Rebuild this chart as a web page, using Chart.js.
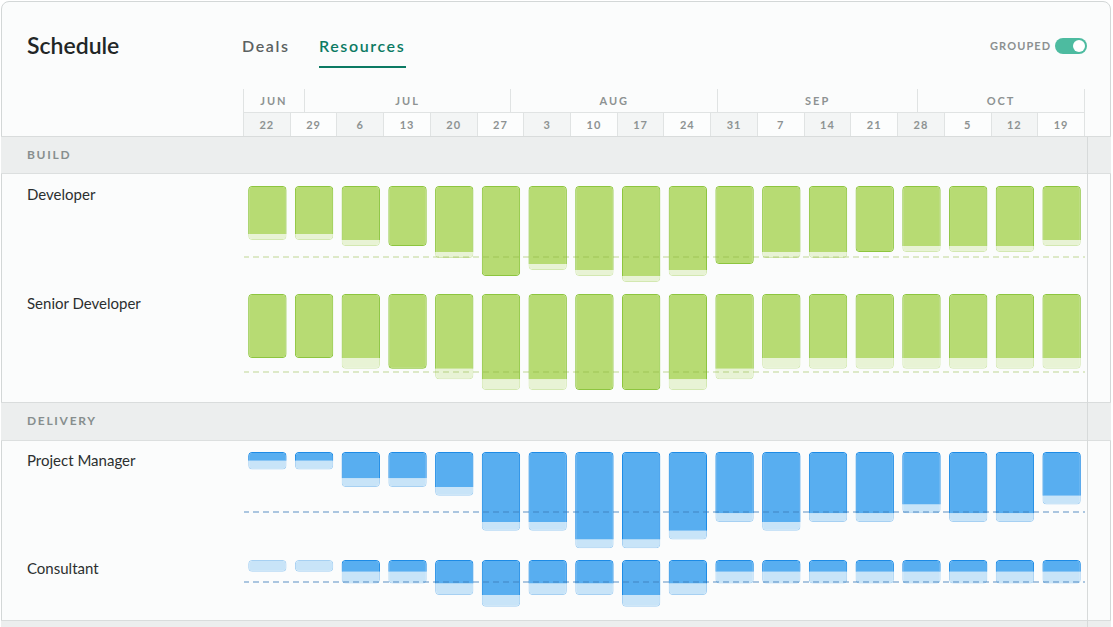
<!DOCTYPE html>
<html>
<head>
<meta charset="utf-8">
<title>Schedule</title>
<script src="https://cdn.jsdelivr.net/npm/chart.js@4/dist/chart.umd.min.js"></script>
<style>
  html, body { margin: 0; padding: 0; background: #ffffff; }
  body { width: 1113px; height: 627px; overflow: hidden; position: relative; font-family: Lato, "Noto Sans", sans-serif; }
  .abs { position: absolute; }
  .card { left: 1px; top: 1px; width: 1108px; height: 680px; border: 1px solid #d3d7d7; border-radius: 8px; background: #fbfcfc; }
  .title { left: 27px; top: 34px; font-size: 23px; line-height: 23px; font-weight: 600; color: #222626; }
  .tab { top: 38px; font-size: 16px; line-height: 16px; font-weight: 600; letter-spacing: 1.6px; color: #5b6161; }
  .tab.active { color: #0b7a63; }
  .underline { left: 319px; top: 66px; width: 87px; height: 2px; background: #0b7a63; }
  .grouped { left: 990px; top: 40px; font-size: 11px; line-height: 11px; font-weight: 700; letter-spacing: 1.1px; color: #8b9090; }
  .toggle { left: 1055px; top: 38px; width: 32px; height: 16px; border-radius: 8px; background: #4dbba0; }
  .toggle span { position: absolute; right: 2px; top: 2px; width: 12px; height: 12px; border-radius: 6px; background: #ffffff; }
  .months, .weeks { left: 243px; width: 842px; display: flex; }
  .months { top: 89px; height: 23px; }
  .weeks { top: 112px; height: 23px; border-top: 1px solid #e0e3e3; border-bottom: 2px solid #d9dcdc; }
  .months div, .weeks div { flex: 1 1 0; border-left: 1px solid #e0e3e3; text-align: center; font-size: 11px; font-weight: 700; color: #8d9292; }
  .months div { line-height: 23px; letter-spacing: 2px; }
  .weeks div { line-height: 23px; letter-spacing: 1px; background: #fcfdfd; }
  .weeks div.shade { background: #f3f5f5; }
  .months div:last-child, .weeks div:last-child { border-right: 1px solid #e0e3e3; }
  .section { left: 1px; width: 1110px; background: #eceeee; border-top: 1px solid #d9dcdc; border-bottom: 1px solid #dcdfdf; }
  .section span { position: absolute; left: 26px; font-size: 12px; line-height: 12px; font-weight: 700; letter-spacing: 1.7px; color: #878e8e; }
  .vline { left: 1087px; top: 137px; width: 1px; height: 490px; background: #d7dada; }
  .label { left: 27px; font-size: 15px; line-height: 15px; color: #2b2f2f; }
  .chart { left: 244px; width: 841px; }
</style>
</head>
<body>
<div class="abs card"></div>
<div class="abs title">Schedule</div>
<div class="abs tab" style="left:242px">Deals</div>
<div class="abs tab active" style="left:319px">Resources</div>
<div class="abs underline"></div>
<div class="abs grouped">GROUPED</div>
<div class="abs toggle"><span></span></div>

<div class="abs months" id="months"></div>
<div class="abs weeks" id="weeks"></div>

<div class="abs section" style="top:136px;height:36px"><span style="top:12px">BUILD</span></div>
<div class="abs section" style="top:402px;height:37px"><span style="top:12px">DELIVERY</span></div>
<div class="abs section" style="top:620px;height:20px"></div>
<div class="abs vline"></div>

<div class="abs label" style="top:187px">Developer</div>
<div class="abs label" style="top:296px">Senior Developer</div>
<div class="abs label" style="top:453px">Project Manager</div>
<div class="abs label" style="top:561px">Consultant</div>

<div class="abs chart" style="top:186px;height:100px"><canvas id="developer"></canvas></div>
<div class="abs chart" style="top:294px;height:100px"><canvas id="senior"></canvas></div>
<div class="abs chart" style="top:452px;height:100px"><canvas id="pm"></canvas></div>
<div class="abs chart" style="top:560px;height:60px"><canvas id="consultant"></canvas></div>

<script>
// week columns and month header (month width in days)
const weeks = ['22', '29', '6', '13', '20', '27', '3', '10', '17', '24', '31', '7', '14', '21', '28', '5', '12', '19'];
const months = ['JUN', 'JUL', 'AUG', 'SEP', 'OCT'];
const monthDays = [9, 31, 31, 30, 25];

// booked = dark bar, planned = light bar behind it, capacity = dashed line
const developerBooked = [8, 8, 9, 10, 11, 15, 13, 14, 15, 14, 13, 11, 11, 11, 10, 10, 10, 9];
const developerPlanned = [9, 9, 10, 10, 12, 15, 14, 15, 16, 15, 13, 12, 12, 11, 11, 11, 11, 10];
const developerCapacity = 11.8;

const seniorBooked = [6, 6, 6, 7, 7, 8, 8, 9, 9, 8, 7, 6, 6, 6, 6, 6, 6, 6];
const seniorPlanned = [6, 6, 7, 7, 8, 9, 9, 9, 9, 9, 8, 7, 7, 7, 7, 7, 7, 7];
const seniorCapacity = 7.28;

const pmBooked = [1, 1, 3, 3, 4, 8, 8, 10, 10, 9, 7, 8, 7, 7, 6, 7, 7, 5];
const pmPlanned = [2, 2, 4, 4, 5, 9, 9, 11, 11, 10, 8, 9, 8, 8, 7, 8, 8, 6];
const pmCapacity = 6.82;

const consultantBooked = [0, 0, 1, 1, 2, 3, 2, 2, 3, 2, 1, 1, 1, 1, 1, 1, 1, 1];
const consultantPlanned = [1, 1, 2, 2, 3, 4, 3, 3, 4, 3, 2, 2, 2, 2, 2, 2, 2, 2];
const consultantCapacity = 1.85;

const green = { fill: '#b7db73', border: '#8dc53f', lightFill: '#e8f3d5', lightBorder: '#d3e8b1', dash: 'rgba(140,180,60,0.27)' };
const blue = { fill: '#58aef0', border: '#1d8be6', lightFill: '#c8e4f8', lightBorder: '#a6d0f2', dash: 'rgba(60,125,185,0.42)' };

// header cells
const monthsEl = document.getElementById('months');
months.forEach((m, i) => {
    const d = document.createElement('div');
    d.textContent = m;
    d.style.flexGrow = monthDays[i];
    monthsEl.appendChild(d);
});
const weeksEl = document.getElementById('weeks');
weeks.forEach((w, i) => {
    const d = document.createElement('div');
    d.textContent = w;
    if (i % 2 === 0) d.className = 'shade';
    weeksEl.appendChild(d);
});

// dashed capacity line over the bars
const capacityLine = {
    id: 'capacityLine',
    afterDatasetsDraw(chart, args, opts) {
        const { ctx, chartArea, scales } = chart;
        const y = Math.round(scales.y.getPixelForValue(opts.value));
        ctx.save();
        ctx.strokeStyle = opts.color;
        ctx.lineWidth = 2;
        ctx.setLineDash([6, 4]);
        ctx.beginPath();
        ctx.moveTo(chartArea.left - 1, y);
        ctx.lineTo(chartArea.right, y);
        ctx.stroke();
        ctx.restore();
    }
};

function drawRow(id, booked, planned, capacity, yMax, pal) {
    const extends_ = i => planned[i] > booked[i];
    new Chart(document.getElementById(id), {
        type: 'bar',
        data: {
            labels: weeks,
            datasets: [
                {
                    data: booked,
                    backgroundColor: pal.fill,
                    borderColor: pal.border,
                    borderWidth: 1,
                    borderRadius: 4,
                    borderSkipped: c => extends_(c.dataIndex) ? 'end' : false,
                    order: 1
                },
                {
                    data: planned,
                    backgroundColor: pal.lightFill,
                    borderColor: pal.lightBorder,
                    borderWidth: 1,
                    borderRadius: 4,
                    borderSkipped: false,
                    order: 2
                }
            ]
        },
        options: {
            responsive: true,
            maintainAspectRatio: false,
            animation: false,
            layout: { padding: 0 },
            datasets: { bar: { grouped: false, barPercentage: 0.82, categoryPercentage: 1 } },
            plugins: {
                legend: { display: false },
                tooltip: { enabled: false },
                capacityLine: { value: capacity, color: pal.dash }
            },
            scales: {
                x: { display: false, offset: true },
                y: { display: false, reverse: true, min: 0, max: yMax }
            }
        },
        plugins: [capacityLine]
    });
}

drawRow('developer', developerBooked, developerPlanned, developerCapacity, 16.67, green);
drawRow('senior', seniorBooked, seniorPlanned, seniorCapacity, 9.375, green);
drawRow('pm', pmBooked, pmPlanned, pmCapacity, 11.43, blue);
drawRow('consultant', consultantBooked, consultantPlanned, consultantCapacity, 5.13, blue);
</script>
</body>
</html>
